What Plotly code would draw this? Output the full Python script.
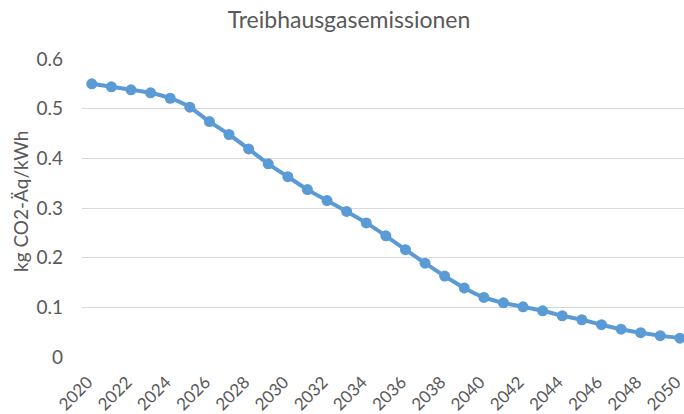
import plotly.graph_objects as go

years = list(range(2020, 2051))
emissions = [0.550, 0.544, 0.538, 0.532, 0.521, 0.503, 0.474, 0.448, 0.419, 0.389,
             0.363, 0.337, 0.315, 0.293, 0.270, 0.244, 0.216, 0.189, 0.163, 0.139,
             0.120, 0.109, 0.101, 0.093, 0.083, 0.075, 0.065, 0.056, 0.049, 0.043,
             0.038]
x_ticks = list(range(2020, 2051, 2))
y_ticks = [0, 0.1, 0.2, 0.3, 0.4, 0.5, 0.6]
y_tick_labels = ["0", "0.1", "0.2", "0.3", "0.4", "0.5", "0.6"]

font_family = "Lato, Open Sans, sans-serif"
grey = "#595959"

fig = go.Figure()
fig.add_trace(go.Scatter(
    x=years, y=emissions, mode="lines+markers",
    line=dict(color="#5b9bd5", width=4, shape="spline", smoothing=0.6),
    marker=dict(color="#5b9bd5", size=11),
    showlegend=False,
))

fig.add_annotation(
    text="kg CO2-Äq/kWh", textangle=-90, showarrow=False,
    xref="paper", yref="paper", x=(20 - 82) / 602, y=(357 - 202) / 298,
    xanchor="center", yanchor="middle",
    font=dict(size=19, color=grey, family=font_family),
)

fig.update_layout(
    width=684, height=414,
    margin=dict(l=82, r=0, t=59, b=57),
    paper_bgcolor="white", plot_bgcolor="white",
    font=dict(family=font_family, color=grey, size=19),
    title=dict(text="Treibhausgasemissionen", x=349 / 684, xref="container", xanchor="center",
               y=0.952, yanchor="middle", font=dict(size=23, color=grey)),
    xaxis=dict(range=[2019.5, 2050.21], tickmode="array", tickvals=x_ticks,
               ticktext=[str(v) for v in x_ticks], tickangle=-45, showgrid=False,
               zeroline=False, showline=False, ticks="", ticklabeloverflow="allow",
               ticklabelstandoff=11, ticklabelshift=-4,
               tickfont=dict(size=17, color=grey)),
    yaxis=dict(range=[0, 0.6], tickmode="array", tickvals=y_ticks, ticktext=y_tick_labels,
               showgrid=True, gridcolor="#d9d9d9", gridwidth=1.3, zeroline=False,
               showline=False, ticks="", ticklabelstandoff=18,
               tickfont=dict(size=19, color=grey)),
)

fig.write_html("out.html", config={"displayModeBar": False},
               post_script="document.body.style.margin='0';")
